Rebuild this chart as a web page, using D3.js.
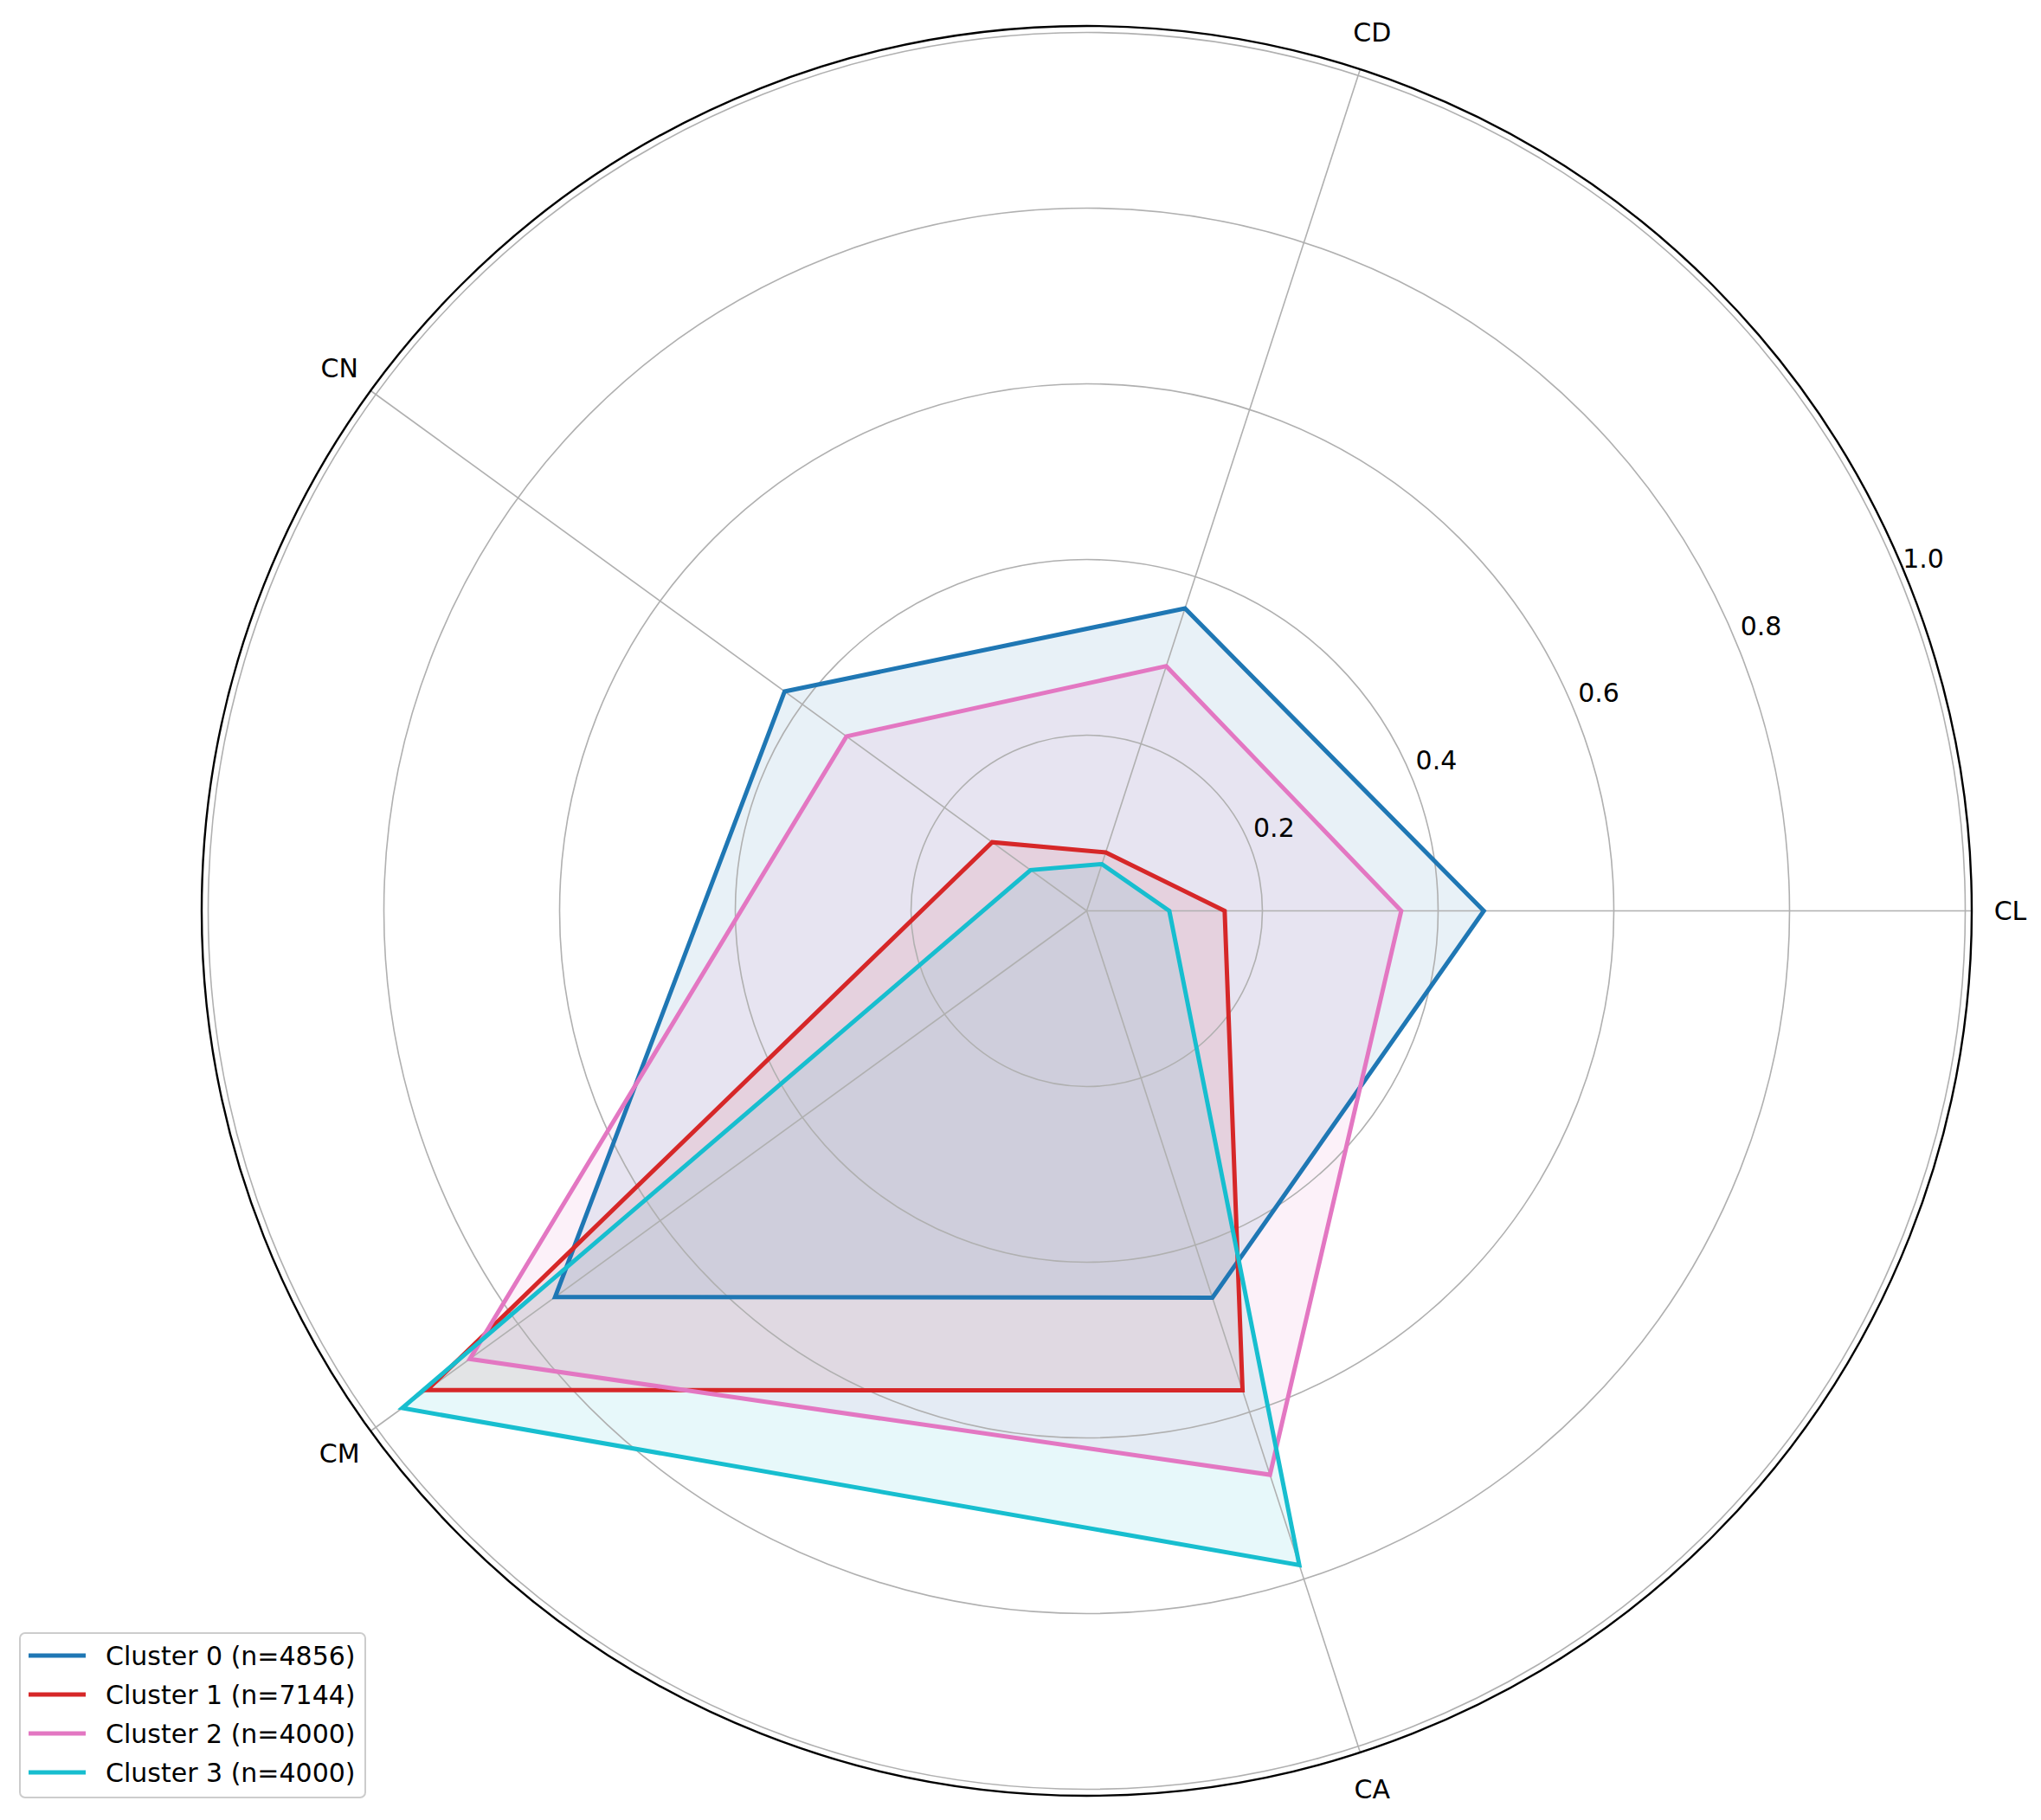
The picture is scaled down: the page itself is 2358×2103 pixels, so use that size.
<!DOCTYPE html>
<html>
<head>
<meta charset="utf-8">
<script src="https://cdn.jsdelivr.net/npm/d3@7"></script>
<style>
  html, body { margin: 0; padding: 0; background: #fff; }
  svg { display: block; font-family: "DejaVu Sans", sans-serif; }
</style>
</head>
<body>
<svg id="chart" width="2358" height="2103"></svg>
<script>
// ---- data ----
const axes = ["CL", "CD", "CN", "CM", "CA"];
const seriesNames = ["Cluster 0 (n=4856)", "Cluster 1 (n=7144)", "Cluster 2 (n=4000)", "Cluster 3 (n=4000)"];
const cluster0 = [0.452, 0.362, 0.425, 0.748, 0.463];
const cluster1 = [0.157, 0.070, 0.133, 0.928, 0.574];
const cluster2 = [0.358, 0.293, 0.338, 0.868, 0.675];
const cluster3 = [0.094, 0.056, 0.079, 0.963, 0.783];
const seriesColors = ["#1f77b4", "#d62728", "#e377c2", "#17becf"];
const rTicks = [0.2, 0.4, 0.6, 0.8, 1.0];
const rTickLabels = ["0.2", "0.4", "0.6", "0.8", "1.0"];

const series = [cluster0, cluster1, cluster2, cluster3];

// ---- layout ----
const cx = 1255.5, cy = 1052.5;
const rMax = 1.0074;
const r = d3.scaleLinear().domain([0, rMax]).range([0, 1022.5]);
const theta = d3.scalePoint().domain(axes).range([0, 2 * Math.PI * (axes.length - 1) / axes.length]);

const svg = d3.select("#chart");
const g = svg.append("g").attr("transform", `translate(${cx},${cy})`);

const px = (a, v) => r(v) * Math.cos(theta(a));
const py = (a, v) => -r(v) * Math.sin(theta(a));

const radial = d3.lineRadial()
  .angle((d, i) => Math.PI / 2 - theta(axes[i]))
  .radius(d => r(d))
  .curve(d3.curveLinearClosed);

const fillG = g.append("g");
series.forEach((s, i) => {
  fillG.append("path").attr("d", radial(s))
    .attr("fill", seriesColors[i]).attr("fill-opacity", 0.1).attr("stroke", "none");
});

const gridG = g.append("g");
rTicks.forEach(t => {
  gridG.append("circle").attr("r", r(t)).attr("fill", "none")
    .attr("stroke", "#b0b0b0").attr("stroke-width", 1.6);
});
axes.forEach(a => {
  gridG.append("line").attr("x1", 0).attr("y1", 0)
    .attr("x2", px(a, rMax)).attr("y2", py(a, rMax))
    .attr("stroke", "#b0b0b0").attr("stroke-width", 1.6);
});

const lineG = g.append("g");
series.forEach((s, i) => {
  lineG.append("path").attr("d", radial(s))
    .attr("fill", "none").attr("stroke", seriesColors[i])
    .attr("stroke-width", 5).attr("stroke-linejoin", "miter");
});

g.append("circle").attr("r", r(rMax)).attr("fill", "none")
  .attr("stroke", "#000").attr("stroke-width", 2.4);

const labAng = 22.5 * Math.PI / 180;
rTicks.forEach((t, i) => {
  g.append("text")
    .attr("x", r(t) * Math.cos(labAng) + 5)
    .attr("y", -r(t) * Math.sin(labAng) - 8)
    .attr("font-size", 30).attr("fill", "#000")
    .attr("text-anchor", "start")
    .text(rTickLabels[i]);
});

const labR = 1067;
axes.forEach(a => {
  g.append("text")
    .attr("x", labR * Math.cos(theta(a)))
    .attr("y", -labR * Math.sin(theta(a)))
    .attr("font-size", 30).attr("fill", "#000")
    .attr("text-anchor", "middle").attr("dominant-baseline", "central")
    .text(a);
});

const leg = svg.append("g").attr("transform", "translate(23,1887)");
leg.append("rect").attr("x", 0).attr("y", 0).attr("width", 399).attr("height", 190)
  .attr("rx", 6).attr("ry", 6).attr("fill", "#fff").attr("fill-opacity", 0.8)
  .attr("stroke", "#cccccc").attr("stroke-width", 2);
const rowY = d3.scaleLinear().domain([0, 3]).range([26, 161]);
seriesNames.forEach((name, i) => {
  leg.append("line").attr("x1", 10).attr("x2", 76)
    .attr("y1", rowY(i)).attr("y2", rowY(i))
    .attr("stroke", seriesColors[i]).attr("stroke-width", 5);
  leg.append("text").attr("x", 99).attr("y", rowY(i))
    .attr("dominant-baseline", "central").attr("font-size", 30).attr("fill", "#000")
    .text(name);
});
</script>
</body>
</html>
